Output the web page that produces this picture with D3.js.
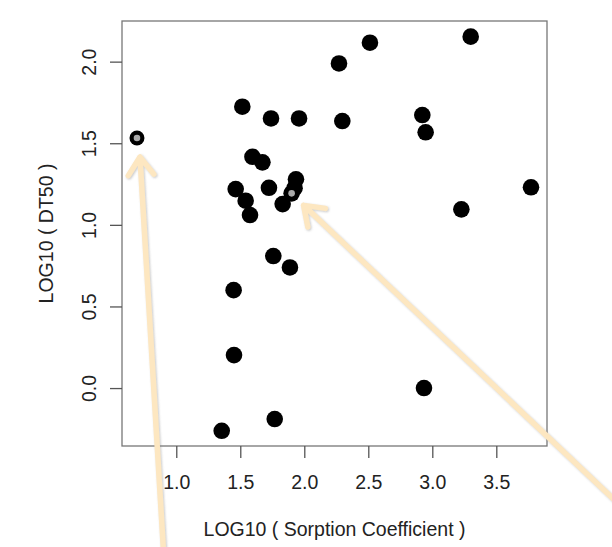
<!DOCTYPE html>
<html>
<head>
<meta charset="utf-8">
<script src="https://cdn.jsdelivr.net/npm/d3@7"></script>
<style>
  body { margin: 0; background: #fff; }
  svg { display: block; font-family: "Liberation Sans", Arial, sans-serif; }
</style>
</head>
<body>
<div id="chart"></div>
<script>
// LOG10 sorption coefficient (x) and LOG10 DT50 (y)
const sorption = [0.693, 1.516, 1.740, 1.959, 2.271, 2.513, 3.300, 2.297, 2.922, 2.948,
  1.595, 1.673, 1.464, 1.542, 1.576, 1.724, 1.935, 1.924, 1.901, 1.831,
  3.771, 3.227, 1.758, 1.888, 1.448, 1.451, 2.935, 1.769, 1.355];
const dt50 = [1.532, 1.724, 1.652, 1.652, 1.989, 2.116, 2.153, 1.636, 1.673, 1.567,
  1.417, 1.383, 1.219, 1.148, 1.060, 1.227, 1.279, 1.225, 1.193, 1.127,
  1.230, 1.095, 0.809, 0.739, 0.600, 0.202, 0.000, -0.190, -0.262];
const highlighted = [0, 18];
const xTicks = [1.0, 1.5, 2.0, 2.5, 3.0, 3.5];
const yTicks = [0.0, 0.5, 1.0, 1.5, 2.0];

const width = 612, height = 547;
const plotL = 122, plotR = 547, plotT = 21, plotB = 446;
const fontSize = "19.5px";

const svg = d3.select("#chart")
  .append("svg")
  .attr("width", width)
  .attr("height", height);

const defs = svg.append("defs");
defs.append("filter")
  .attr("id", "shadow")
  .attr("x", "-20%").attr("y", "-20%")
  .attr("width", "140%").attr("height", "140%")
  .append("feDropShadow")
  .attr("dx", 1).attr("dy", 1)
  .attr("stdDeviation", 1)
  .attr("flood-color", "#888")
  .attr("flood-opacity", 0.45);

// Scales
const x = d3.scaleLinear().domain([0.576, 3.896]).range([plotL, plotR]);
const y = d3.scaleLinear().domain([-0.355, 2.249]).range([plotB, plotT]);

// Box
svg.append("rect")
  .attr("x", plotL).attr("y", plotT)
  .attr("width", plotR - plotL).attr("height", plotB - plotT)
  .attr("fill", "none")
  .attr("stroke", "#777")
  .attr("stroke-width", 1.3);

// Axes
const xAxis = svg.append("g")
  .attr("transform", `translate(0,${plotB})`)
  .call(d3.axisBottom(x).tickValues(xTicks).tickSize(12).tickPadding(17)
    .tickFormat(d3.format(".1f")));
xAxis.select(".domain").remove();
xAxis.selectAll("line").attr("stroke", "#555").attr("stroke-width", 1.3);
xAxis.selectAll("text")
  .style("font-size", fontSize)
  .attr("fill", "#222")
  .attr("font-family", "Liberation Sans, Arial, sans-serif");

const yAxis = svg.append("g")
  .attr("transform", `translate(${plotL},0)`)
  .call(d3.axisLeft(y).tickValues(yTicks).tickSize(12).tickFormat(d3.format(".1f")));
yAxis.select(".domain").remove();
yAxis.selectAll("line").attr("stroke", "#555").attr("stroke-width", 1.3);
yAxis.selectAll("text")
  .attr("x", null)
  .attr("text-anchor", "middle")
  .attr("transform", "translate(-33,0) rotate(-90)")
  .attr("dy", "0.36em")
  .style("font-size", fontSize)
  .attr("fill", "#222")
  .attr("font-family", "Liberation Sans, Arial, sans-serif");

// Axis titles
svg.append("text")
  .attr("x", (plotL + plotR) / 2)
  .attr("y", 536)
  .attr("text-anchor", "middle")
  .attr("fill", "#222")
  .style("font-size", fontSize)
  .text("LOG10 ( Sorption Coefficient )");

svg.append("text")
  .attr("transform", `translate(53,${(plotT + plotB) / 2}) rotate(-90)`)
  .attr("text-anchor", "middle")
  .attr("fill", "#222")
  .style("font-size", fontSize)
  .text("LOG10 ( DT50 )");

// Points
const pts = sorption.map((d, i) => ({ x: d, y: dt50[i], hi: highlighted.includes(i) }));

svg.append("g")
  .selectAll("circle")
  .data(pts)
  .enter()
  .append("circle")
  .attr("cx", (d) => x(d.x))
  .attr("cy", (d) => y(d.y))
  .attr("r", (d, i) => (i === 0 ? 7.5 : 8.3))
  .attr("fill", "#000");

svg.append("g")
  .selectAll("circle")
  .data(pts.filter((d) => d.hi))
  .enter()
  .append("circle")
  .attr("cx", (d) => x(d.x))
  .attr("cy", (d) => y(d.y))
  .attr("r", 3.3)
  .attr("fill", "#aaa");

// Annotation arrows pointing at the highlighted points
const arrows = [
  { p: pts[0], dx: 3, dy: 19, tail: [164, 560] },
  { p: pts[18], dx: 12, dy: 12, tail: [625, 510] },
];

const arrowG = svg.append("g")
  .attr("filter", "url(#shadow)")
  .attr("fill", "none")
  .attr("stroke", "#fde7c1")
  .attr("stroke-width", 5.5)
  .attr("stroke-linecap", "round")
  .attr("stroke-linejoin", "round");

arrows.forEach((a) => {
  const tx = x(a.p.x) + a.dx;
  const ty = y(a.p.y) + a.dy;
  const ang = Math.atan2(a.tail[1] - ty, a.tail[0] - tx);
  const len = 22, spread = 0.62;
  const w1 = [tx + len * Math.cos(ang - spread), ty + len * Math.sin(ang - spread)];
  const w2 = [tx + len * Math.cos(ang + spread), ty + len * Math.sin(ang + spread)];
  arrowG.append("path")
    .attr("d", `M${a.tail[0]},${a.tail[1]}L${tx},${ty}M${w1[0]},${w1[1]}L${tx},${ty}L${w2[0]},${w2[1]}`);
});
</script>
</body>
</html>
